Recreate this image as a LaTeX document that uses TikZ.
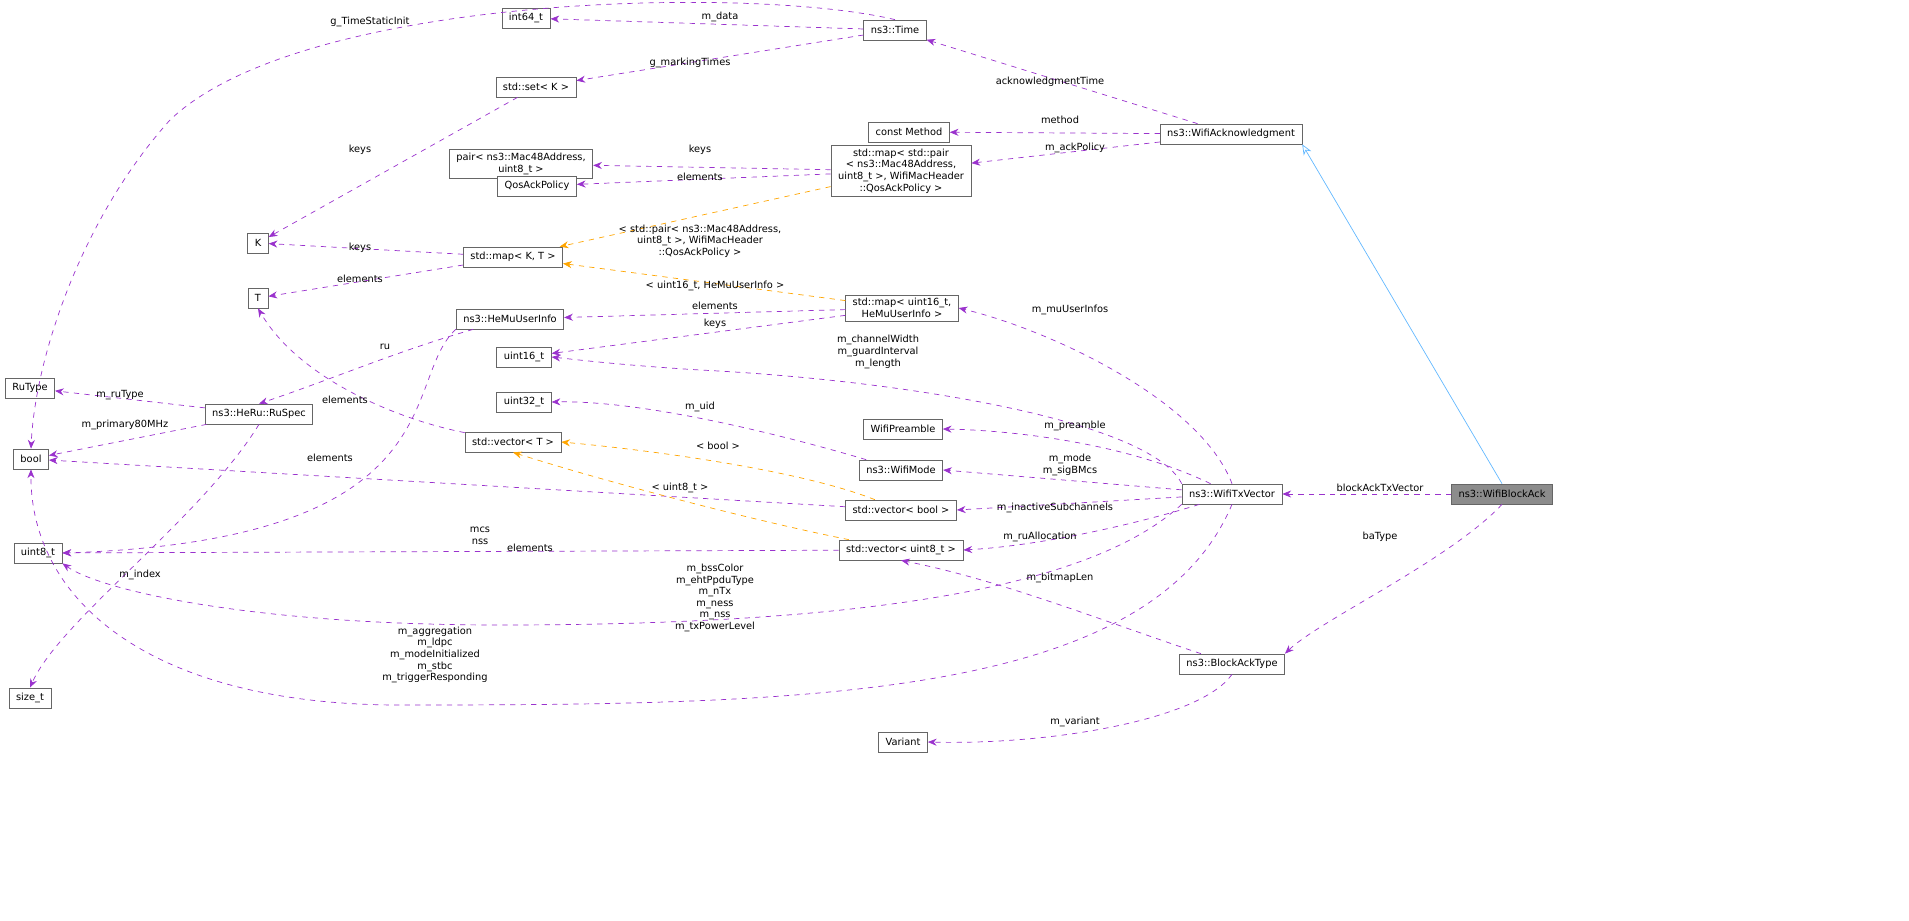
\documentclass[tikz,border=0pt]{standalone}
\usepackage{fontspec}
\setmainfont{DejaVu Sans}
\usetikzlibrary{arrows.meta}
\definecolor{dep}{HTML}{9A32CD}
\definecolor{tmpl}{HTML}{FFA500}
\definecolor{inh}{HTML}{63B8FF}
\begin{document}
\begin{tikzpicture}[x=0.02cm,y=-0.02cm,
    font=\fontsize{5.6}{6.6}\selectfont,
    cls/.style   = {draw=black!60, fill=white, align=center, inner xsep=4pt,
        inner ysep=2pt, minimum height=20*0.02cm},
    usage/.style = {dep, dashed, -{Stealth[length=5pt,width=4pt]}},
    inst/.style  = {tmpl, dashed, -{Stealth[length=5pt,width=4pt]}},
    lbl/.style   = {black, align=center, inner sep=0pt}]
    \useasboundingbox (0,0) rectangle (1909,920);

    % Draw the classes.
    \node[cls] (i64)     at (526,18)  {int64\_t};
    \node[cls] (tm)      at (895,30)  {ns3::Time};
    \node[cls] (setK)    at (536,87)  {std::set< K >};
    \node[cls] (cmeth)   at (909,132) {const Method};
    \node[cls] (wack)    at (1231,134) {ns3::WifiAcknowledgment};
    \node[cls] (pairm)   at (521,164) {pair< ns3::Mac48Address,\\ uint8\_t >};
    \node[cls] (mapP)    at (901,171) {std::map< std::pair\\< ns3::Mac48Address,\\ uint8\_t >, WifiMacHeader\\::QosAckPolicy >};
    \node[cls] (qos)     at (537,186) {QosAckPolicy};
    \node[cls] (K)       at (258,243) {K};
    \node[cls] (mapKT)   at (513,257) {std::map< K, T >};
    \node[cls] (T)       at (258,298) {T};
    \node[cls] (hemu)    at (510,319) {ns3::HeMuUserInfo};
    \node[cls] (mapU)    at (902,308) {std::map< uint16\_t,\\ HeMuUserInfo >};
    \node[cls] (u16)     at (524,357) {uint16\_t};
    \node[cls] (rutype)  at (30,388)  {RuType};
    \node[cls] (ruspec)  at (259,414) {ns3::HeRu::RuSpec};
    \node[cls] (u32)     at (524,402) {uint32\_t};
    \node[cls] (wpre)    at (903,429) {WifiPreamble};
    \node[cls] (bool)    at (31,459)  {bool};
    \node[cls] (vecT)    at (513,442) {std::vector< T >};
    \node[cls] (wmode)   at (901,470) {ns3::WifiMode};
    \node[cls] (txv)     at (1232,494) {ns3::WifiTxVector};
    \node[cls, fill=black!45] (wba) at (1502,494) {ns3::WifiBlockAck};
    \node[cls] (vecB)    at (901,510) {std::vector< bool >};
    \node[cls] (u8)      at (38,553)  {uint8\_t};
    \node[cls] (vecU8)   at (901,550) {std::vector< uint8\_t >};
    \node[cls] (bat)     at (1232,664) {ns3::BlockAckType};
    \node[cls] (sizet)   at (30,698)  {size\_t};
    \node[cls] (variant) at (903,742) {Variant};

    % Draw the members.
    \draw[usage] (tm) -- (i64) node[lbl] at (720,17) {m\_data};
    \draw[usage] (tm.north) .. controls (750,-15) and (300,-5) .. (170,120)
        .. controls (80,220) and (35,360) .. (bool.north)
        node[lbl] at (370,22) {g\_TimeStaticInit};
    \draw[usage] (tm) -- (setK) node[lbl] at (690,63) {g\_markingTimes};
    \draw[usage] (wack) -- (tm) node[lbl] at (1050,82) {acknowledgmentTime};
    \draw[usage] (wack) -- (cmeth) node[lbl] at (1060,120) {method};
    \draw[usage] (wack) -- (mapP) node[lbl] at (1075,148) {m\_ackPolicy};
    \draw[usage] (setK) -- (K) node[lbl] at (360,150) {keys};
    \draw[usage] (mapP) -- (pairm) node[lbl] at (700,150) {keys};
    \draw[usage] (mapP) -- (qos) node[lbl] at (700,177) {elements};
    \draw[inst] (mapP) -- (mapKT)
        node[lbl] at (700,241) {< std::pair< ns3::Mac48Address,\\ uint8\_t >, WifiMacHeader\\ ::QosAckPolicy >};
    \draw[usage] (mapKT) -- (K) node[lbl] at (360,248) {keys};
    \draw[usage] (mapKT) -- (T) node[lbl] at (360,279) {elements};
    \draw[inst] (mapU) -- (mapKT) node[lbl] at (715,286) {< uint16\_t, HeMuUserInfo >};
    \draw[usage] (mapU) -- (hemu) node[lbl] at (715,306) {elements};
    \draw[usage] (mapU) -- (u16) node[lbl] at (715,324) {keys};
    \draw[usage] (hemu) .. controls (400,350) and (330,380) .. (ruspec.north)
        node[lbl] at (385,347) {ru};
    \draw[usage] (hemu.south west) .. controls (400,380) and (460,540) .. (u8.east)
        node[lbl] at (480,536) {mcs\\nss};
    \draw[usage] (ruspec) -- (rutype) node[lbl] at (120,395) {m\_ruType};
    \draw[usage] (ruspec) -- (bool) node[lbl] at (125,425) {m\_primary80MHz};
    \draw[usage] (ruspec.south) .. controls (200,520) and (60,620) .. (sizet.north)
        node[lbl] at (140,575) {m\_index};
    \draw[usage] (vecT) .. controls (400,420) and (300,380) .. (T.south)
        node[lbl] at (345,400) {elements};
    \draw[usage] (wmode) .. controls (800,440) and (650,400) .. (u32.east)
        node[lbl] at (700,407) {m\_uid};
    \draw[inst] (vecB) .. controls (800,470) and (650,450) .. (vecT.east)
        node[lbl] at (718,446) {< bool >};
    \draw[usage] (vecB) -- (bool) node[lbl] at (330,458) {elements};
    \draw[inst] (vecU8) .. controls (750,520) and (600,480) .. (vecT.south)
        node[lbl] at (680,488) {< uint8\_t >};
    \draw[usage] (vecU8) -- (u8) node[lbl] at (530,548) {elements};

    % Draw the members of the transmit vector.
    \draw[usage] (txv.north) .. controls (1200,400) and (1050,330) .. (mapU.east)
        node[lbl] at (1070,310) {m\_muUserInfos};
    \draw[usage] (txv.north west) .. controls (1150,420) and (900,380) .. (700,370)
        .. controls (620,365) and (580,360) .. (u16.east)
        node[lbl] at (878,352) {m\_channelWidth\\m\_guardInterval\\m\_length};
    \draw[usage] (txv) .. controls (1120,440) and (1000,430) .. (wpre.east)
        node[lbl] at (1075,426) {m\_preamble};
    \draw[usage] (txv) -- (wmode.east) node[lbl] at (1070,465) {m\_mode\\m\_sigBMcs};
    \draw[usage] (txv) -- (vecB.east) node[lbl] at (1055,508) {m\_inactiveSubchannels};
    \draw[usage] (txv) .. controls (1150,520) and (1050,545) .. (vecU8.east)
        node[lbl] at (1040,537) {m\_ruAllocation};
    \draw[usage] (txv.south west) .. controls (1100,580) and (900,625) .. (500,625)
        .. controls (250,625) and (100,590) .. (u8.south east)
        node[lbl] at (715,598) {m\_bssColor\\m\_ehtPpduType\\m\_nTx\\m\_ness\\m\_nss\\m\_txPowerLevel};
    \draw[usage] (txv.south) .. controls (1150,700) and (800,705) .. (400,705)
        .. controls (150,705) and (30,600) .. (bool.south)
        node[lbl] at (435,655) {m\_aggregation\\m\_ldpc\\m\_modeInitialized\\m\_stbc\\m\_triggerResponding};

    % Draw the block ack members.
    \draw[inh, -{Stealth[open,length=6pt,width=5pt]}] (wba.north) -- (wack.south east);
    \draw[usage] (wba) -- (txv) node[lbl] at (1380,488) {blockAckTxVector};
    \draw[usage] (wba.south) .. controls (1450,560) and (1320,620) .. (bat.north east)
        node[lbl] at (1380,537) {baType};
    \draw[usage] (bat) .. controls (1100,620) and (1000,580) .. (vecU8.south)
        node[lbl] at (1060,578) {m\_bitmapLen};
    \draw[usage] (bat.south) .. controls (1200,720) and (1050,745) .. (variant.east)
        node[lbl] at (1075,722) {m\_variant};
\end{tikzpicture}
\end{document}
